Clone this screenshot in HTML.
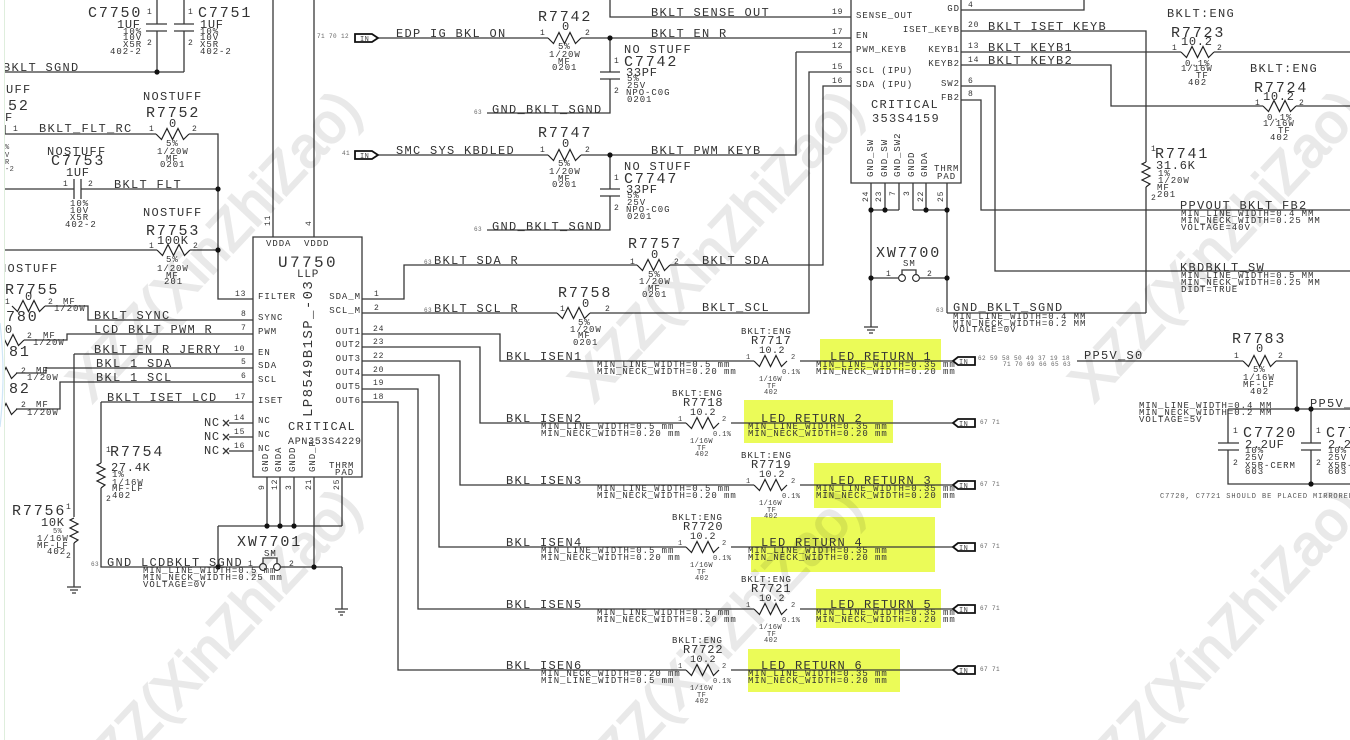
<!DOCTYPE html>
<html><head><meta charset="utf-8"><style>
html,body{margin:0;padding:0;background:#fff;width:1350px;height:740px;overflow:hidden}
svg{display:block}
text{font-family:"Liberation Mono",monospace;fill:#333}
.a{font-size:15px;letter-spacing:1.85px}
.b{font-size:12px;letter-spacing:1.3px}
.c{font-size:12px;letter-spacing:.7px}
.r{font-size:12px;letter-spacing:.9px}
.d text,text.d{font-size:9px;letter-spacing:.95px}
.f text,text.f{font-size:8px;letter-spacing:.8px}
.g text,text.g{font-size:6px;letter-spacing:.4px;fill:#666}
.h text,text.h{font-size:7px;letter-spacing:.4px;fill:#444}
.e{text-anchor:end}
.w{fill:none;stroke:#383838;stroke-width:1.3}
.k{fill:#111}
.in{fill:#fff;stroke:#111;stroke-width:1.8}
.m text{font-family:"Liberation Sans",sans-serif;font-size:56px;fill:#e9e9e9;stroke:#e9e9e9;stroke-width:2;letter-spacing:0}
</style></head><body>
<svg width="1350" height="740" viewBox="0 0 1350 740" xmlns="http://www.w3.org/2000/svg">
<defs>
<path id="z" d="M0 0L5.5 5.5L11 -5.5L16.5 5.5L22 -5.5L27.5 5.5L33 0" fill="none" stroke="#222" stroke-width="1.2"/>
<path id="v" d="M0 0L-4 2L4 6L-4 10L4 14L-4 18L4 22L0 25" fill="none" stroke="#222" stroke-width="1.2"/>
<clipPath id="frame"><rect width="1350" height="740"/></clipPath>
</defs>
<rect width="1350" height="740" fill="#fff"/>
<!-- highlights -->
<g fill="#ebfb58">
<rect x="820" y="339" width="121" height="31"/>
<rect x="744" y="400" width="149" height="43"/>
<rect x="814" y="463" width="127" height="45"/>
<rect x="751" y="517" width="184" height="55"/>
<rect x="816" y="589" width="125" height="39"/>
<rect x="748" y="649" width="152" height="43"/>
</g>
<!-- wires -->
<g class="w">
<path d="M157 0V24M146 24H167M146 31H167M157 31V72M184 0V24M174 24H194M174 31H194M184 31V72M4 72H184"/>
<path d="M5 134H156M189 134H218V299H253M5 125V134M5 189H74M74 179V199M81 179V199M81 189H218M5 250H157M190 250H218"/>
<path d="M253 237H362V477H253ZM273 0V237M314 0V237"/>
<path d="M45 306H88V320H253M24 340H67V334H253M74 354H253M74 354V517M74 543V587M67 587H81M70 590H78M72 593H76"/>
<path d="M16 373H46V368H253M16 409H60V382H253M101 402H253M101 402V463M101 488V567H259M229 423H253M229 437H253M229 451H253"/>
<path d="M223 420L229 426M229 420L223 426M223 434L229 440M229 434L223 440M223 448L229 454M229 448L223 454"/>
<path d="M267 477V526M280 477V526M294 477V526M314 477V567M342 477V526M218 526H342M218 526V567M281 567H342M342 567V609M335 609H348M338 612H345M340 615H343M263 563V558H277V563"/>
<path d="M362 299H404V265H637M670 265H823V86H851M362 313H557M590 313H809V72H851"/>
<path d="M851 0V183H961V0"/>
<path d="M610 0V17H851M378 38H548M581 38H851M796 52H851M796 52V155H581M378 155H548M610 38V72M600 72H620M600 79H620M610 79V113H487M610 155V189M600 189H620M600 196H620M610 196V230H487"/>
<path d="M961 10H1084V0M961 31H1146V162M1146 187V313M961 52H1181M1214 52H1350M961 65H1111V106H1263M1296 106H1350M961 86H995V271H1350M961 100H981V210H1350"/>
<path d="M871 183V327M885 183V210M899 183V210M913 183V210M926 183V210M947 183V313M871 210H899M913 210H947M871 278H898M920 278H947M902 274V270H916V274M947 313H1146M864 327H878M867 330H875M869 333H873"/>
<path d="M362 334H500V361H754M800 361H953M362 347H480V423H686M731 423H953M362 361H460V485H754M800 485H953M362 375H439V547H686M731 547H953M362 389H418V609H754M800 609H953M362 402H398V670H686M731 670H953"/>
<path d="M1077 361H1243M1276 361H1297V409M1228 409H1350M1228 409V443M1218 443H1239M1218 450H1239M1228 450V484H1350M1311 409V443M1301 443H1321M1301 450H1321M1311 450V484"/>
</g>
<g>
<use href="#z" x="156" y="134"/><use href="#z" x="157" y="250"/><use href="#z" x="12" y="306"/><use href="#z" x="-9" y="340"/><use href="#z" x="-16" y="373"/><use href="#z" x="-16" y="409"/>
<use href="#z" x="548" y="38"/><use href="#z" x="548" y="155"/><use href="#z" x="637" y="265"/><use href="#z" x="557" y="313"/>
<use href="#z" x="1181" y="52"/><use href="#z" x="1263" y="106"/><use href="#z" x="1243" y="361"/>
<use href="#z" x="754" y="361"/><use href="#z" x="686" y="423"/><use href="#z" x="754" y="485"/><use href="#z" x="686" y="547"/><use href="#z" x="754" y="609"/><use href="#z" x="686" y="670"/>
<use href="#v" x="101" y="463"/><use href="#v" x="74" y="518"/><use href="#v" x="1146" y="162"/>
</g>
<!-- dots -->
<g class="k">
<circle cx="157" cy="72" r="2.6"/><circle cx="218" cy="189" r="2.6"/><circle cx="218" cy="250" r="2.6"/>
<circle cx="267" cy="526" r="2.6"/><circle cx="280" cy="526" r="2.6"/><circle cx="294" cy="526" r="2.6"/><circle cx="218" cy="567" r="2.6"/><circle cx="314" cy="567" r="2.6"/>
<circle cx="610" cy="38" r="2.6"/><circle cx="610" cy="155" r="2.6"/>
<circle cx="871" cy="210" r="2.6"/><circle cx="885" cy="210" r="2.6"/><circle cx="926" cy="210" r="2.6"/><circle cx="947" cy="210" r="2.6"/><circle cx="871" cy="278" r="2.6"/><circle cx="947" cy="278" r="2.6"/>
<circle cx="1297" cy="409" r="2.6"/><circle cx="1311" cy="409" r="2.6"/><circle cx="1311" cy="484" r="2.6"/>
</g>
<g fill="#fff" stroke="#222" stroke-width="1.1">
<circle cx="263" cy="567" r="3.4"/><circle cx="277" cy="567" r="3.4"/><circle cx="902" cy="278" r="3.4"/><circle cx="916" cy="278" r="3.4"/>
</g>
<!-- flags -->
<g class="in">
<path d="M355 34H372L378 38L372 42H355Z"/><path d="M355 151H372L378 155L372 159H355Z"/>
<path d="M953 361L958 357H975V365H958Z"/><path d="M953 423L958 419H975V427H958Z"/><path d="M953 485L958 481H975V489H958Z"/><path d="M953 547L958 543H975V551H958Z"/><path d="M953 609L958 605H975V613H958Z"/><path d="M953 670L958 666H975V674H958Z"/>
</g>
<g class="h">
<text x="360" y="41">IN</text><text x="360" y="158">IN</text>
<text x="959" y="364">IN</text><text x="959" y="426">IN</text><text x="959" y="488">IN</text><text x="959" y="550">IN</text><text x="959" y="612">IN</text><text x="959" y="673">IN</text>
</g>

<!-- top-left -->
<text class="a" x="88" y="17">C7750</text><text class="a" x="198" y="17">C7751</text>
<text class="c" x="117" y="28">1UF</text><text class="c" x="200" y="28">1UF</text>
<g class="d">
<text x="123" y="34">10%</text><text x="123" y="40">10V</text><text x="123" y="47">X5R</text><text x="110" y="54">402-2</text>
<text x="200" y="34">10%</text><text x="200" y="40">10V</text><text x="200" y="47">X5R</text><text x="200" y="54">402-2</text>
</g>
<g class="f"><text x="147" y="14">1</text><text x="147" y="45">2</text><text x="188" y="14">1</text><text x="188" y="45">2</text></g>
<text class="b" x="3" y="71">BKLT_SGND</text>
<text class="b" x="-28" y="93">NOSTUFF</text><text class="a" x="8" y="110">52</text><text class="b" x="5" y="121">F</text>
<g class="f"><text x="13" y="131">1</text><text x="149" y="131">1</text><text x="192" y="131">2</text><text x="63" y="186">1</text><text x="88" y="186">2</text><text x="149" y="248">1</text><text x="193" y="248">2</text></g>
<g class="h"><text x="5" y="149">%</text><text x="5" y="157">V</text><text x="5" y="164">R</text><text x="5" y="171">-2</text></g>
<text class="b" x="143" y="100">NOSTUFF</text><text class="a" x="146" y="117">R7752</text><text class="c" x="169" y="127">0</text>
<text class="b" x="39" y="132">BKLT_FLT_RC</text>
<g class="d"><text x="166" y="146">5%</text><text x="157" y="154">1/20W</text><text x="166" y="161">MF</text><text x="160" y="167">0201</text></g>
<text class="b" x="47" y="155">NOSTUFF</text><text class="a" x="51" y="165">C7753</text><text class="c" x="66" y="176">1UF</text>
<text class="b" x="114" y="188">BKLT_FLT</text>
<g class="d"><text x="70" y="206">10%</text><text x="70" y="213">10V</text><text x="70" y="220">X5R</text><text x="65" y="227">402-2</text></g>
<text class="b" x="143" y="216">NOSTUFF</text><text class="a" x="146" y="235">R7753</text><text class="c" x="157" y="244">100K</text>
<g class="d"><text x="166" y="262">5%</text><text x="157" y="271">1/20W</text><text x="166" y="278">MF</text><text x="164" y="284">201</text></g>

<!-- U7750 -->
<g class="f"><text transform="rotate(-90 270 226)" x="270" y="226">11</text><text transform="rotate(-90 311 226)" x="311" y="226">4</text></g>
<g class="d"><text x="266" y="246">VDDA</text><text x="304" y="246">VDDD</text></g>
<text x="278" y="267" style="font-size:16px;letter-spacing:2.4px">U7750</text>
<text x="297" y="277" style="font-size:11px;letter-spacing:.8px">LLP</text>
<text transform="rotate(-90 312 417)" x="312" y="417" style="font-size:14px;letter-spacing:1.4px">LP8549B1SP_-03</text>
<g class="d">
<text x="258" y="299">FILTER</text><text x="258" y="320">SYNC</text><text x="258" y="334">PWM</text><text x="258" y="355">EN</text><text x="258" y="368">SDA</text><text x="258" y="382">SCL</text><text x="258" y="403">ISET</text><text x="258" y="423">NC</text><text x="258" y="437">NC</text><text x="258" y="451">NC</text>
<text class="e" x="361" y="299">SDA_M</text><text class="e" x="361" y="313">SCL_M</text><text class="e" x="361" y="334">OUT1</text><text class="e" x="361" y="347">OUT2</text><text class="e" x="361" y="361">OUT3</text><text class="e" x="361" y="375">OUT4</text><text class="e" x="361" y="389">OUT5</text><text class="e" x="361" y="403">OUT6</text>
<text transform="rotate(-90 268 472)" x="268" y="472">GND</text><text transform="rotate(-90 281 472)" x="281" y="472">GNDA</text><text transform="rotate(-90 295 472)" x="295" y="472">GNDD</text><text transform="rotate(-90 315 472)" x="315" y="472">GND_P</text>
<text x="329" y="468">THRM</text><text x="335" y="475">PAD</text>
</g>
<text class="b" x="288" y="430">CRITICAL</text>
<text x="288" y="444" style="font-size:10px;letter-spacing:.7px">APN353S4229</text>
<g class="f">
<text x="235" y="296">13</text><text x="241" y="316">8</text><text x="241" y="330">7</text><text x="234" y="351">10</text><text x="241" y="364">5</text><text x="241" y="378">6</text><text x="235" y="399">17</text><text x="234" y="420">14</text><text x="234" y="434">15</text><text x="234" y="448">16</text>
<text x="374" y="296">1</text><text x="374" y="310">2</text><text x="373" y="331">24</text><text x="373" y="344">23</text><text x="373" y="358">22</text><text x="373" y="372">20</text><text x="373" y="385">19</text><text x="373" y="399">18</text>
<text transform="rotate(-90 264 490)" x="264" y="490">9</text><text transform="rotate(-90 277 490)" x="277" y="490">12</text><text transform="rotate(-90 291 490)" x="291" y="490">3</text><text transform="rotate(-90 311 490)" x="311" y="490">21</text><text transform="rotate(-90 339 490)" x="339" y="490">25</text>
</g>
<text class="c" x="204" y="426">NC</text><text class="c" x="204" y="440">NC</text><text class="c" x="204" y="454">NC</text>
<text class="b" x="94" y="319">BKLT_SYNC</text><text class="b" x="94" y="333">LCD_BKLT_PWM_R</text><text class="b" x="94" y="353">BKLT_EN_R_JERRY</text><text class="b" x="96" y="367">BKL_1_SDA</text><text class="b" x="96" y="381">BKL_1_SCL</text><text class="b" x="107" y="401">BKLT_ISET_LCD</text>
<!-- left clipped -->
<text class="b" x="-1" y="272">NOSTUFF</text><text class="a" x="5" y="294">R7755</text><text class="c" x="25" y="300">0</text>
<text class="a" x="6" y="321">780</text><text class="c" x="5" y="333">0</text><text class="a" x="9" y="356">81</text><text class="a" x="9" y="393">82</text>
<g class="f"><text x="5" y="304">1</text><text x="48" y="304">2</text><text x="27" y="338">2</text><text x="21" y="373">2</text><text x="21" y="407">2</text></g>
<g class="d"><text x="63" y="304">MF</text><text x="54" y="311">1/20W</text><text x="43" y="338">MF</text><text x="33" y="345">1/20W</text><text x="36" y="373">MF</text><text x="27" y="380">1/20W</text><text x="36" y="407">MF</text><text x="27" y="415">1/20W</text></g>
<!-- R7754 R7756 -->
<text class="f" x="106" y="452">1</text><text class="a" x="110" y="456">R7754</text><text class="c" x="111" y="471">27.4K</text>
<g class="d"><text x="112" y="477">1%</text><text x="112" y="485">1/16W</text><text x="112" y="491">MF-LF</text><text x="112" y="498">402</text></g><text class="f" x="106" y="501">2</text>
<text class="a" x="12" y="515">R7756</text><text class="f" x="66" y="509">1</text><text class="c" x="41" y="526">10K</text>
<g class="h"><text x="53" y="533">5%</text></g><g class="d"><text x="37" y="541">1/16W</text><text x="37" y="548">MF-LF</text><text x="47" y="554">402</text></g><text class="f" x="66" y="558">2</text>
<!-- XW7701 -->
<text class="a" x="237" y="546">XW7701</text><text class="d" x="264" y="556">SM</text><text class="f" x="248" y="566">1</text><text class="f" x="289" y="566">2</text>
<text class="g" x="91" y="566">63</text><text class="b" x="107" y="566">GND_LCDBKLT_SGND</text>
<g class="d"><text x="143" y="573">MIN_LINE_WIDTH=0.5 mm</text><text x="143" y="580">MIN_NECK_WIDTH=0.25 mm</text><text x="143" y="587">VOLTAGE=0V</text></g>

<!-- top middle -->
<g class="g"><text x="317" y="38">71 70 12</text><text x="342" y="155">41</text><text x="474" y="114">63</text><text x="474" y="231">63</text><text x="424" y="264">63</text><text x="424" y="312">63</text></g>
<text class="b" x="396" y="37">EDP_IG_BKL_ON</text><text class="b" x="396" y="154">SMC_SYS_KBDLED</text>
<text class="a" x="538" y="21">R7742</text><text class="c" x="562" y="30">0</text><text class="a" x="538" y="137">R7747</text><text class="c" x="562" y="147">0</text>
<g class="f"><text x="540" y="35">1</text><text x="585" y="35">2</text><text x="540" y="152">1</text><text x="585" y="152">2</text><text x="614" y="63">1</text><text x="614" y="93">2</text><text x="614" y="180">1</text><text x="614" y="210">2</text></g>
<g class="d"><text x="558" y="49">5%</text><text x="549" y="57">1/20W</text><text x="558" y="64">MF</text><text x="552" y="70">0201</text>
<text x="558" y="166">5%</text><text x="549" y="174">1/20W</text><text x="558" y="181">MF</text><text x="552" y="187">0201</text></g>
<text class="b" x="651" y="16">BKLT_SENSE_OUT</text><text class="b" x="651" y="37">BKLT_EN_R</text><text class="b" x="651" y="154">BKLT_PWM_KEYB</text>
<text class="b" x="624" y="53">NO STUFF</text><text class="a" x="624" y="66">C7742</text><text class="c" x="626" y="76">33PF</text>
<text class="b" x="624" y="170">NO STUFF</text><text class="a" x="624" y="183">C7747</text><text class="c" x="626" y="193">33PF</text>
<g class="d"><text x="627" y="81">5%</text><text x="627" y="88">25V</text><text x="626" y="95">NPO-C0G</text><text x="627" y="102">0201</text>
<text x="627" y="198">5%</text><text x="627" y="205">25V</text><text x="626" y="212">NPO-C0G</text><text x="627" y="219">0201</text></g>
<text class="b" x="492" y="113">GND_BKLT_SGND</text><text class="b" x="492" y="230">GND_BKLT_SGND</text>
<!-- R7757 R7758 -->
<text class="a" x="628" y="248">R7757</text><text class="c" x="651" y="258">0</text><text class="a" x="558" y="297">R7758</text><text class="c" x="582" y="307">0</text>
<g class="f"><text x="630" y="264">1</text><text x="674" y="264">2</text><text x="560" y="311">1</text><text x="605" y="311">2</text></g>
<g class="d"><text x="648" y="277">5%</text><text x="639" y="284">1/20W</text><text x="648" y="291">MF</text><text x="642" y="297">0201</text>
<text x="578" y="325">5%</text><text x="570" y="332">1/20W</text><text x="578" y="338">MF</text><text x="573" y="345">0201</text></g>
<text class="b" x="434" y="264">BKLT_SDA_R</text><text class="b" x="434" y="312">BKLT_SCL_R</text><text class="b" x="702" y="264">BKLT_SDA</text><text class="b" x="702" y="311">BKLT_SCL</text>

<!-- IC2 -->
<g class="d">
<text x="856" y="18">SENSE_OUT</text><text x="856" y="38">EN</text><text x="856" y="52">PWM_KEYB</text><text x="856" y="73">SCL (IPU)</text><text x="856" y="87">SDA (IPU)</text>
<text class="e" x="960" y="11">GD</text><text class="e" x="960" y="32">ISET_KEYB</text><text class="e" x="960" y="52">KEYB1</text><text class="e" x="960" y="66">KEYB2</text><text class="e" x="960" y="86">SW2</text><text class="e" x="960" y="100">FB2</text>
<text transform="rotate(-90 873 177)" x="873" y="177">GND_SW</text><text transform="rotate(-90 887 177)" x="887" y="177">GND_SW</text><text transform="rotate(-90 900 177)" x="900" y="177">GND_SW2</text><text transform="rotate(-90 914 177)" x="914" y="177">GNDD</text><text transform="rotate(-90 927 177)" x="927" y="177">GNDA</text>
<text x="934" y="171">THRM</text><text x="937" y="179">PAD</text>
</g>
<text class="b" x="871" y="108">CRITICAL</text><text class="b" x="872" y="122">353S4159</text>
<g class="f">
<text x="832" y="14">19</text><text x="832" y="34">17</text><text x="832" y="48">12</text><text x="832" y="69">15</text><text x="832" y="83">16</text>
<text x="968" y="7">4</text><text x="968" y="27">20</text><text x="968" y="48">13</text><text x="968" y="62">14</text><text x="968" y="83">6</text><text x="968" y="96">8</text>
<text transform="rotate(-90 868 202)" x="868" y="202">24</text><text transform="rotate(-90 881 202)" x="881" y="202">23</text><text transform="rotate(-90 895 196)" x="895" y="196">7</text><text transform="rotate(-90 909 196)" x="909" y="196">3</text><text transform="rotate(-90 923 202)" x="923" y="202">22</text><text transform="rotate(-90 943 202)" x="943" y="202">25</text>
</g>
<text class="a" x="876" y="257">XW7700</text><text class="d" x="903" y="266">SM</text><text class="f" x="886" y="276">1</text><text class="f" x="927" y="276">2</text>
<text class="g" x="936" y="312">63</text><text class="b" x="953" y="311">GND_BKLT_SGND</text>
<g class="d"><text x="953" y="319">MIN_LINE_WIDTH=0.4 MM</text><text x="953" y="326">MIN_NECK_WIDTH=0.2 MM</text><text x="953" y="332">VOLTAGE=0V</text></g>

<!-- top right -->
<text class="b" x="988" y="30">BKLT_ISET_KEYB</text><text class="b" x="988" y="51">BKLT_KEYB1</text><text class="b" x="988" y="64">BKLT_KEYB2</text>
<text class="b" x="1167" y="17">BKLT:ENG</text><text class="a" x="1171" y="37">R7723</text><text class="c" x="1181" y="45">10.2</text>
<g class="f"><text x="1172" y="50">1</text><text x="1217" y="50">2</text><text x="1255" y="105">1</text><text x="1299" y="105">2</text></g>
<g class="d"><text x="1185" y="66">0.1%</text><text x="1181" y="71">1/16W</text><text x="1196" y="78">TF</text><text x="1188" y="85">402</text>
<text x="1267" y="120">0.1%</text><text x="1263" y="126">1/16W</text><text x="1278" y="133">TF</text><text x="1270" y="140">402</text></g>
<text class="b" x="1250" y="72">BKLT:ENG</text><text class="a" x="1254" y="92">R7724</text><text class="c" x="1263" y="100">10.2</text>
<text class="f" x="1151" y="151">1</text><text class="a" x="1155" y="158">R7741</text><text class="c" x="1156" y="169">31.6K</text>
<g class="d"><text x="1158" y="176">1%</text><text x="1158" y="183">1/20W</text><text x="1157" y="190">MF</text><text x="1157" y="197">201</text></g><text class="f" x="1151" y="200">2</text>
<text class="b" x="1180" y="209">PPVOUT_BKLT_FB2</text>
<g class="d"><text x="1181" y="216">MIN_LINE_WIDTH=0.4 MM</text><text x="1181" y="223">MIN_NECK_WIDTH=0.25 MM</text><text x="1181" y="230">VOLTAGE=40V</text></g>
<text class="b" x="1180" y="271">KBDBKLT_SW</text>
<g class="d"><text x="1181" y="278">MIN_LINE_WIDTH=0.5 MM</text><text x="1181" y="285">MIN_NECK_WIDTH=0.25 MM</text><text x="1181" y="292">DIDT=TRUE</text></g>

<!-- right lower -->
<g class="g"><text x="978" y="360">62 59 58 50 49 37 19 18</text><text x="1003" y="366">71 70 69 66 65 63</text>
<text x="980" y="424">67 71</text><text x="980" y="486">67 71</text><text x="980" y="548">67 71</text><text x="980" y="610">67 71</text><text x="980" y="671">67 71</text></g>
<text class="b" x="1084" y="359">PP5V_S0</text><text class="a" x="1232" y="343">R7783</text><text class="c" x="1256" y="352">0</text>
<g class="f"><text x="1234" y="358">1</text><text x="1278" y="358">2</text><text x="1233" y="433">1</text><text x="1233" y="465">2</text><text x="1316" y="433">1</text><text x="1316" y="465">2</text></g>
<g class="d"><text x="1253" y="372">5%</text><text x="1243" y="380">1/16W</text><text x="1243" y="387">MF-LF</text><text x="1250" y="394">402</text>
<text x="1139" y="408">MIN_LINE_WIDTH=0.4 MM</text><text x="1139" y="415">MIN_NECK_WIDTH=0.2 MM</text><text x="1139" y="422">VOLTAGE=5V</text>
<text x="1245" y="453">10%</text><text x="1245" y="460">25V</text><text x="1245" y="468">X5R-CERM</text><text x="1245" y="474">603</text>
<text x="1328" y="453">10%</text><text x="1328" y="460">25V</text><text x="1328" y="468">X5R-CERM</text><text x="1328" y="474">603</text></g>
<text class="b" x="1310" y="407">PP5V_S0</text>
<text class="a" x="1243" y="437">C7720</text><text class="c" x="1245" y="448">2.2UF</text><text class="a" x="1326" y="437">C7721</text><text class="c" x="1328" y="448">2.2UF</text>
<text x="1160" y="498" style="font-size:7px;letter-spacing:.9px;fill:#555">C7720, C7721 SHOULD BE PLACED MIRRORED</text>

<!-- ISEN rows -->
<g class="b">
<text x="506" y="360">BKL_ISEN1</text><text x="506" y="422">BKL_ISEN2</text><text x="506" y="484">BKL_ISEN3</text><text x="506" y="546">BKL_ISEN4</text><text x="506" y="608">BKL_ISEN5</text><text x="506" y="669">BKL_ISEN6</text>
<text x="830" y="360">LED_RETURN_1</text><text x="761" y="422">LED_RETURN_2</text><text x="830" y="484">LED_RETURN_3</text><text x="761" y="546">LED_RETURN_4</text><text x="830" y="608">LED_RETURN_5</text><text x="761" y="669">LED_RETURN_6</text>
</g>
<g class="d">
<text x="597" y="367">MIN_LINE_WIDTH=0.5 mm</text><text x="597" y="374">MIN_NECK_WIDTH=0.20 mm</text>
<text x="541" y="429">MIN_LINE_WIDTH=0.5 mm</text><text x="541" y="436">MIN_NECK_WIDTH=0.20 mm</text>
<text x="597" y="491">MIN_LINE_WIDTH=0.5 mm</text><text x="597" y="498">MIN_NECK_WIDTH=0.20 mm</text>
<text x="541" y="553">MIN_LINE_WIDTH=0.5 mm</text><text x="541" y="560">MIN_NECK_WIDTH=0.20 mm</text>
<text x="597" y="615">MIN_LINE_WIDTH=0.5 mm</text><text x="597" y="622">MIN_NECK_WIDTH=0.20 mm</text>
<text x="541" y="676">MIN_NECK_WIDTH=0.20 mm</text><text x="541" y="683">MIN_LINE_WIDTH=0.5 mm</text>
<text x="816" y="367">MIN_LINE_WIDTH=0.35 mm</text><text x="816" y="374">MIN_NECK_WIDTH=0.20 mm</text>
<text x="748" y="429">MIN_LINE_WIDTH=0.35 mm</text><text x="748" y="436">MIN_NECK_WIDTH=0.20 mm</text>
<text x="816" y="491">MIN_LINE_WIDTH=0.35 mm</text><text x="816" y="498">MIN_NECK_WIDTH=0.20 mm</text>
<text x="748" y="553">MIN_LINE_WIDTH=0.35 mm</text><text x="748" y="560">MIN_NECK_WIDTH=0.20 mm</text>
<text x="816" y="615">MIN_LINE_WIDTH=0.35 mm</text><text x="816" y="622">MIN_NECK_WIDTH=0.20 mm</text>
<text x="748" y="676">MIN_LINE_WIDTH=0.35 mm</text><text x="748" y="683">MIN_NECK_WIDTH=0.20 mm</text>
<!-- BKLT:ENG and values -->
<text x="741" y="334">BKLT:ENG</text><text x="672" y="396">BKLT:ENG</text><text x="741" y="458">BKLT:ENG</text><text x="672" y="520">BKLT:ENG</text><text x="741" y="582">BKLT:ENG</text><text x="672" y="643">BKLT:ENG</text>
</g>
<g class="r">
<text x="751" y="344">R7717</text><text x="683" y="406">R7718</text><text x="751" y="468">R7719</text><text x="683" y="530">R7720</text><text x="751" y="592">R7721</text><text x="683" y="653">R7722</text>
</g>
<g style="font-size:10px;letter-spacing:.5px">
<text x="759" y="353">10.2</text><text x="690" y="415">10.2</text><text x="759" y="477">10.2</text><text x="690" y="539">10.2</text><text x="759" y="601">10.2</text><text x="690" y="662">10.2</text>
</g>
<g class="h">
<text x="746" y="359">1</text><text x="791" y="359">2</text><text x="782" y="374">0.1%</text><text x="759" y="381">1/16W</text><text x="767" y="388">TF</text><text x="764" y="394">402</text>
<text x="678" y="421">1</text><text x="722" y="421">2</text><text x="713" y="436">0.1%</text><text x="690" y="443">1/16W</text><text x="697" y="450">TF</text><text x="695" y="456">402</text>
<text x="746" y="483">1</text><text x="791" y="483">2</text><text x="782" y="498">0.1%</text><text x="759" y="505">1/16W</text><text x="767" y="512">TF</text><text x="764" y="518">402</text>
<text x="678" y="545">1</text><text x="722" y="545">2</text><text x="713" y="560">0.1%</text><text x="690" y="567">1/16W</text><text x="697" y="574">TF</text><text x="695" y="580">402</text>
<text x="746" y="607">1</text><text x="791" y="607">2</text><text x="782" y="622">0.1%</text><text x="759" y="629">1/16W</text><text x="767" y="636">TF</text><text x="764" y="642">402</text>
<text x="678" y="668">1</text><text x="722" y="668">2</text><text x="713" y="683">0.1%</text><text x="690" y="690">1/16W</text><text x="697" y="697">TF</text><text x="695" y="703">402</text>
</g>

<!-- watermark -->
<g class="m" clip-path="url(#frame)" style="mix-blend-mode:multiply">
<text transform="rotate(-47 92 404)" x="92" y="404">XZZ(XinZhiZao)</text>
<text transform="rotate(-47 594 404)" x="594" y="404">XZZ(XinZhiZao)</text>
<text transform="rotate(-47 1094 404)" x="1094" y="404">XZZ(XinZhiZao)</text>
<text transform="rotate(-47 92 802)" x="92" y="802">XZZ(XinZhiZao)</text>
<text transform="rotate(-47 594 802)" x="594" y="802">XZZ(XinZhiZao)</text>
<text transform="rotate(-47 1094 802)" x="1094" y="802">XZZ(XinZhiZao)</text>
</g>
<!-- left edge -->
<rect x="0" y="0" width="4" height="740" fill="#fff"/>
<path d="M4.5 0V740" stroke="#dfeedd" stroke-width="1" fill="none"/>
<path d="M0 323Q6 375 0 427" stroke="#cfe6f7" stroke-width="1.2" fill="none"/>
</svg>
</body></html>
